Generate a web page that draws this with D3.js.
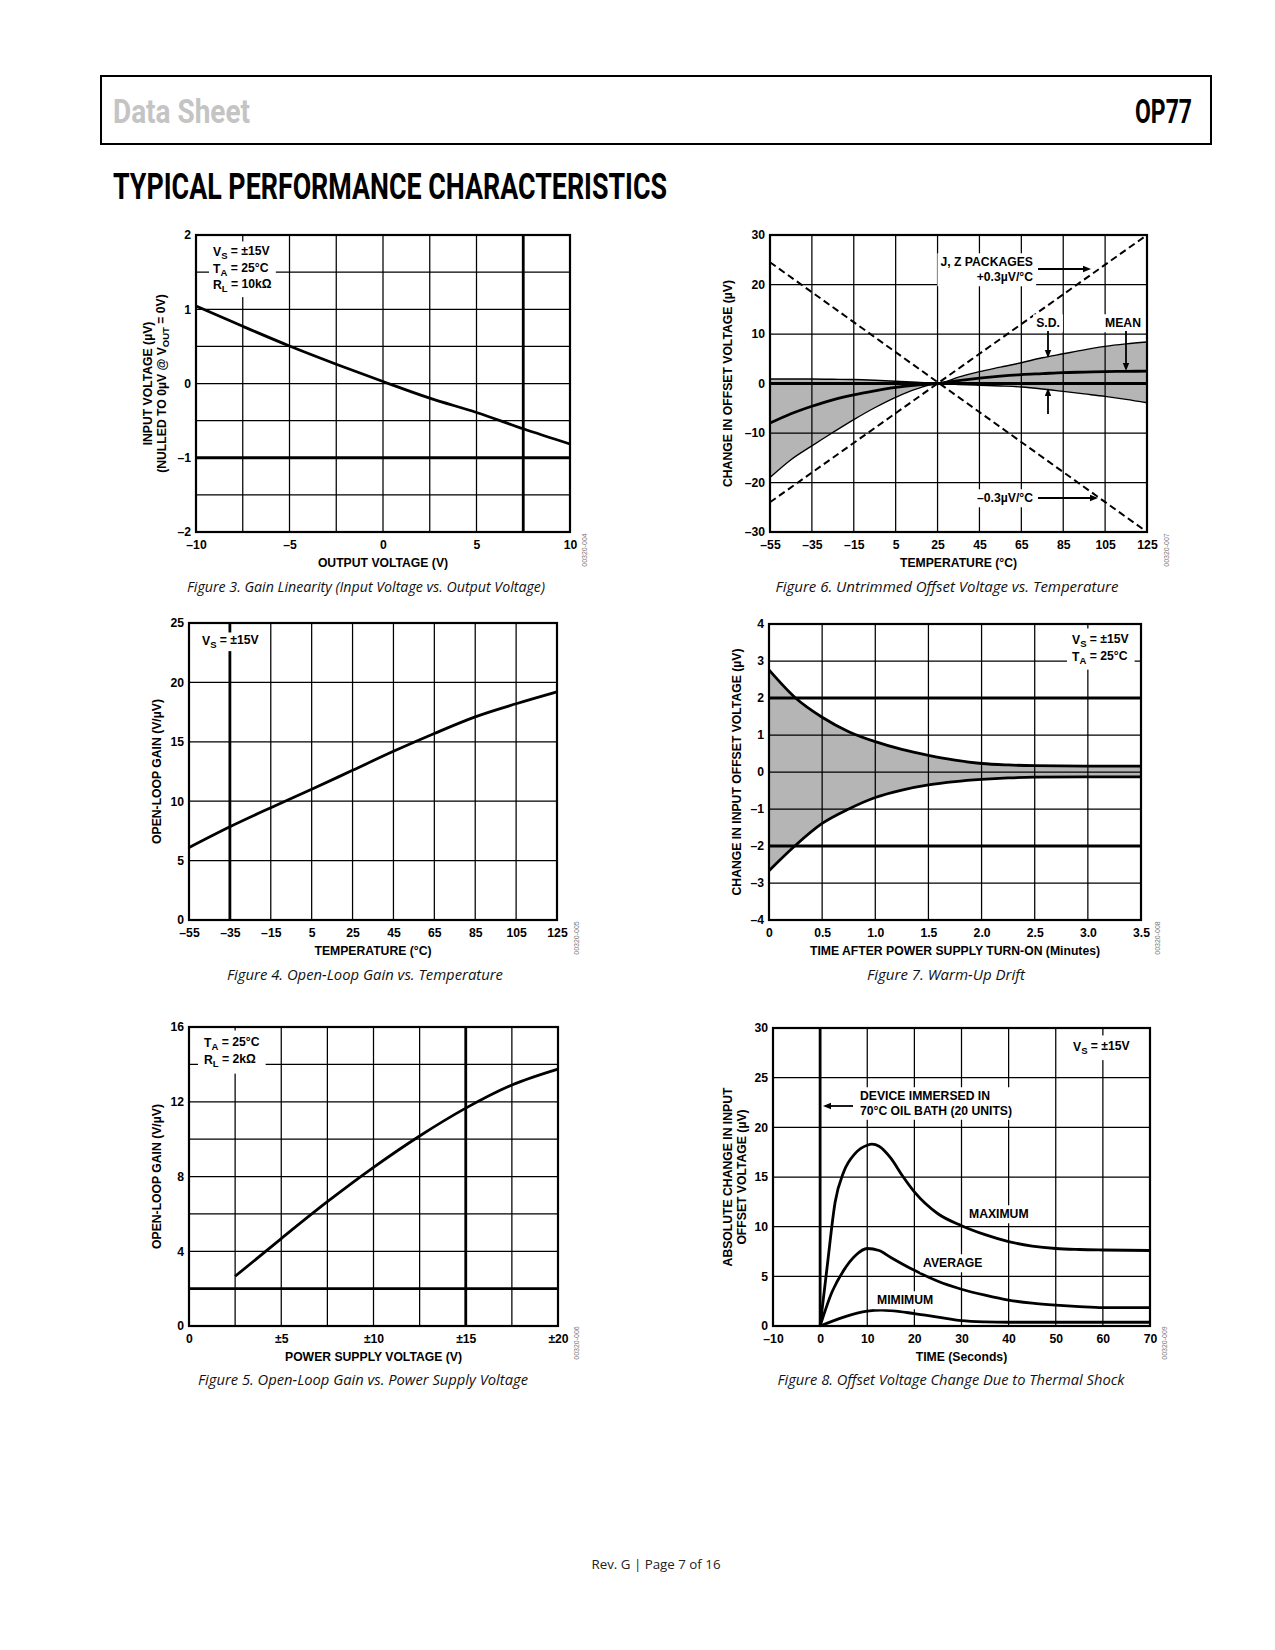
<!DOCTYPE html>
<html><head><meta charset="utf-8">
<script src="https://cdn.jsdelivr.net/npm/d3@7"></script>
<style>
body{margin:0;background:#fff;}
svg{display:block;}
</style></head><body>
<svg id="page" width="1275" height="1650" xmlns="http://www.w3.org/2000/svg"></svg>
<script>
// ================= DATA =================
// Figure 3: Gain linearity
const gainLinOut = [-10,-7.5,-5,-2.5,0,2.5,5,7.5,10];
const gainLinIn  = [1.045,0.77,0.505,0.26,0.027,-0.197,-0.39,-0.61,-0.815];
// Figure 4: Open-loop gain vs temperature
const olgTemp = [-55,-35,-15,5,25,45,65,85,105,125];
const olgTempGain = [6.1,7.85,9.45,11.0,12.6,14.2,15.7,17.1,18.2,19.2];
// Figure 5: Open-loop gain vs supply
const supplyV = [2.5,5,7.5,10,12.5,15,17.5,20];
const supplyGain = [2.66,4.68,6.65,8.49,10.17,11.66,12.9,13.75];
// Figure 6: Untrimmed offset vs temperature
const driftTemp  = [-55,-45,-35,-25,-15,-5,5,15,25,35,45,55,65,75,85,95,105,115,125];
const driftUpper = [0.9,0.9,0.9,0.85,0.8,0.65,0.45,0.25,0,1.3,2.4,3.3,4.2,5.2,6.0,6.8,7.5,8.0,8.4];
const driftMean  = [-8,-6.1,-4.6,-3.3,-2.3,-1.5,-0.8,-0.3,0,0.6,1.1,1.5,1.8,2.0,2.2,2.3,2.4,2.45,2.5];
const driftLower = [-19,-15.4,-12.6,-9.9,-7.3,-4.9,-2.8,-1.1,0,-0.2,-0.35,-0.5,-0.7,-1.1,-1.6,-2.1,-2.6,-3.2,-3.9];
const limitTemp  = [-55,125];
const limitPlus  = [-24,30];
const limitMinus = [24.5,-30];
// Figure 7: Warm-up drift
const warmTime  = [0,0.25,0.5,0.75,1.0,1.25,1.5,1.75,2.0,2.25,2.5,3.0,3.5];
const warmUpper = [2.76,2.0,1.48,1.09,0.82,0.61,0.45,0.32,0.23,0.19,0.17,0.16,0.16];
const warmLower = [-2.67,-1.98,-1.39,-1.0,-0.69,-0.49,-0.35,-0.26,-0.2,-0.16,-0.14,-0.13,-0.13];
// Figure 8: Thermal shock
const shockMaxT = [0,1.5,3.2,5,7.5,10,11,12.5,15,17.5,20,25,30,35,40,45,50,55,60,70];
const shockMax  = [0,6,12.5,15.5,17.4,18.2,18.3,18.1,16.9,15.1,13.5,11.3,10.1,9.2,8.5,8.05,7.8,7.7,7.65,7.6];
const shockAvgT = [0,2.5,5,7.5,10,12.5,15,20,25,30,35,40,45,50,55,60,70];
const shockAvg  = [0,3.4,5.6,7.1,7.8,7.6,6.9,5.6,4.5,3.7,3.1,2.6,2.3,2.1,1.95,1.85,1.85];
const shockMinT = [0,5,10,13,15,20,25,30,35,40,50,70];
const shockMin  = [0,0.9,1.5,1.6,1.55,1.25,0.9,0.55,0.42,0.38,0.38,0.38];

// Tick values
const f3XGrid = [-10,-7.5,-5,-2.5,0,2.5,5,7.5,10], f3XLab = [-10,-5,0,5,10];
const f3YGrid = [-2,-1.5,-1,-0.5,0,0.5,1,1.5,2],   f3YLab = [-2,-1,0,1,2];
const tempTicks = [-55,-35,-15,5,25,45,65,85,105,125];
const f6YTicks = [-30,-20,-10,0,10,20,30];
const f4YTicks = [0,5,10,15,20,25];
const f7XTicks = [0,0.5,1.0,1.5,2.0,2.5,3.0,3.5];
const f7YTicks = [-4,-3,-2,-1,0,1,2,3,4];
const f5XTicks = [0,2.5,5,7.5,10,12.5,15,17.5,20], f5XLab = [0,5,10,15,20];
const f5YGrid = [0,2,4,6,8,10,12,14,16], f5YLab = [0,4,8,12,16];
const f8XTicks = [-10,0,10,20,30,40,50,60,70];
const f8YTicks = [0,5,10,15,20,25,30];

// ================= DRAW =================
const svg = d3.select('#page');
const FONT = '"Liberation Sans", Arial, Helvetica, sans-serif';
const FS = 12.2;
const dash = '–';
const fmtSigned = d => d < 0 ? dash + Math.abs(d) : String(d);

function makeChart(c){
  const g = svg.append('g');
  const x = d3.scaleLinear().domain(c.xDomain).range([c.L, c.R]);
  const y = d3.scaleLinear().domain(c.yDomain).range([c.B, c.T]);
  const L = {
    fill: g.append('g'), grid: g.append('g'), data: g.append('g'),
    frame: g.append('g'), ann: g.append('g'), axes: g.append('g')
  };
  const thickX = c.thickX || [], thickY = c.thickY || [];
  L.grid.selectAll('line.v').data(c.xGrid.filter(d => d !== c.xDomain[0] && d !== c.xDomain[1]))
    .join('line').attr('class','v')
    .attr('x1', d => x(d)).attr('x2', d => x(d)).attr('y1', c.T).attr('y2', c.B)
    .attr('stroke', '#000').attr('stroke-width', d => thickX.includes(d) ? 2.8 : 1.25);
  L.grid.selectAll('line.h').data(c.yGrid.filter(d => d !== c.yDomain[0] && d !== c.yDomain[1]))
    .join('line').attr('class','h')
    .attr('y1', d => y(d)).attr('y2', d => y(d)).attr('x1', c.L).attr('x2', c.R)
    .attr('stroke', '#000').attr('stroke-width', d => thickY.includes(d) ? 2.8 : 1.25);
  L.frame.append('rect').attr('x', c.L).attr('y', c.T).attr('width', c.R - c.L).attr('height', c.B - c.T)
    .attr('fill', 'none').attr('stroke', '#000').attr('stroke-width', 2.2);

  const style = sel => sel.attr('font-family', FONT).attr('font-size', FS).attr('font-weight', 'bold');
  const ax = L.axes.append('g').attr('transform', `translate(0,${c.B})`)
    .call(d3.axisBottom(x).tickValues(c.xLab).tickFormat(c.xFmt || fmtSigned).tickSize(0).tickPadding(8.5));
  ax.select('.domain').remove(); style(ax);
  const ay = L.axes.append('g').attr('transform', `translate(${c.L},0)`)
    .call(d3.axisLeft(y).tickValues(c.yLab).tickFormat(c.yFmt || fmtSigned).tickSize(0).tickPadding(5));
  ay.select('.domain').remove(); style(ay);

  // axis titles
  const t = L.axes.append('text').attr('x', (c.L + c.R) / 2).attr('y', c.B + 31).attr('dy', '0.35em')
    .attr('text-anchor', 'middle').text(c.xTitle); style(t);
  c.yTitle.forEach((s, i) => {
    const yx = c.yTitleX[i];
    const tt = L.axes.append('text').attr('transform', `translate(${yx},${(c.T + c.B) / 2}) rotate(-90)`)
      .attr('dy', '0.35em').attr('text-anchor', 'middle');
    style(tt);
    richText(tt, s);
  });
  // figure id
  L.axes.append('text').attr('transform', `translate(${c.idX},${c.idY}) rotate(-90)`)
    .attr('text-anchor', 'middle').attr('dy', '0.35em')
    .attr('font-family', FONT).attr('font-size', 7).attr('fill', '#777').text(c.id);
  // caption
  svg.append('text').attr('x', c.capX).attr('y', c.capY).attr('text-anchor', 'middle')
    .attr('font-family', '"Open Sans", "Noto Sans", sans-serif').attr('font-style', 'italic')
    .attr('font-size', 14).attr('fill', '#111')
    .attr('textLength', c.capW).attr('lengthAdjust', 'spacingAndGlyphs').text(c.caption);
  return {g, x, y, L};
}

// rich text: segments like "V_{S} = ±15V"
function richText(sel, s){
  const re = /_\{([^}]*)\}/g;
  let last = 0, m, shifted = false;
  while ((m = re.exec(s)) !== null){
    if (m.index > last){
      sel.append('tspan').attr('dy', shifted ? '-0.3em' : null).text(s.slice(last, m.index));
      shifted = false;
    }
    sel.append('tspan').attr('dy', '0.3em').attr('font-size', '0.78em').text(m[1]);
    shifted = true;
    last = re.lastIndex;
  }
  if (last < s.length){
    sel.append('tspan').attr('dy', shifted ? '-0.3em' : null).text(s.slice(last));
  }
}

// text block with white box
function textBlock(layer, lines, x, y0, lineH, anchor, pad){
  const grp = layer.append('g');
  const rect = grp.append('rect').attr('fill', '#fff');
  lines.forEach((s, i) => {
    const t = grp.append('text').attr('x', x).attr('y', y0 + i * lineH).attr('dy', '0.35em')
      .attr('text-anchor', anchor || 'start')
      .attr('font-family', FONT).attr('font-size', FS).attr('font-weight', 'bold');
    richText(t, s);
  });
  const bb = grp.node().getBBox();
  const p = pad == null ? 4 : pad;
  rect.attr('x', bb.x - p).attr('y', bb.y - p + 1).attr('width', bb.width + 2 * p).attr('height', bb.height + 2 * p - 2);
  return grp;
}

function arrow(layer, x1, y1, x2, y2){
  const ang = Math.atan2(y2 - y1, x2 - x1);
  const len = 8, w = 3.2;
  const bx = x2 - len * Math.cos(ang), by = y2 - len * Math.sin(ang);
  layer.append('line').attr('x1', x1).attr('y1', y1).attr('x2', bx).attr('y2', by)
    .attr('stroke', '#000').attr('stroke-width', 1.8);
  const px = -Math.sin(ang) * w, py = Math.cos(ang) * w;
  layer.append('path').attr('d', `M${x2},${y2}L${bx + px},${by + py}L${bx - px},${by - py}Z`).attr('fill', '#000');
}

function curve(layer, xs, ys, c, w){
  const line = d3.line().x((d, i) => c.x(xs[i])).y((d, i) => c.y(ys[i])).curve(d3.curveMonotoneX);
  layer.append('path').attr('d', line(xs)).attr('fill', 'none').attr('stroke', '#000')
    .attr('stroke-width', w || 2.8).attr('stroke-linejoin', 'round').attr('stroke-linecap', 'butt');
}

function band(layer, xs, lo, hi, c){
  const area = d3.area().x((d, i) => c.x(xs[i])).y0((d, i) => c.y(lo[i])).y1((d, i) => c.y(hi[i]))
    .curve(d3.curveMonotoneX);
  layer.append('path').attr('d', area(xs)).attr('fill', '#b5b5b5');
}

// ---------- Header ----------
svg.append('rect').attr('x', 101).attr('y', 76).attr('width', 1110).attr('height', 68)
  .attr('fill', 'none').attr('stroke', '#000').attr('stroke-width', 2);
svg.append('text').attr('x', 113).attr('y', 123).attr('font-family', 'Roboto, "Liberation Sans", sans-serif')
  .attr('font-weight', 'bold').attr('font-size', 34).attr('fill', '#c4c4c4')
  .attr('textLength', 137).attr('lengthAdjust', 'spacingAndGlyphs').text('Data Sheet');
svg.append('text').attr('x', 1135).attr('y', 123).attr('font-family', 'Roboto, "Liberation Sans", sans-serif')
  .attr('font-weight', 'bold').attr('font-size', 34).attr('fill', '#000')
  .attr('textLength', 57).attr('lengthAdjust', 'spacingAndGlyphs').text('OP77');
svg.append('text').attr('x', 113).attr('y', 199).attr('font-family', 'Roboto, "Liberation Sans", sans-serif')
  .attr('font-weight', 'bold').attr('font-size', 36).attr('fill', '#000')
  .attr('textLength', 554).attr('lengthAdjust', 'spacingAndGlyphs').text('TYPICAL PERFORMANCE CHARACTERISTICS');
// Footer
svg.append('text').attr('x', 656).attr('y', 1569).attr('text-anchor', 'middle')
  .attr('font-family', '"Open Sans", "Noto Sans", sans-serif').attr('font-size', 13).attr('fill', '#222')
  .attr('textLength', 129).attr('lengthAdjust', 'spacingAndGlyphs').text('Rev. G | Page 7 of 16');

// ---------- Figure 3 ----------
const c3 = makeChart({
  L: 196, R: 570, T: 235, B: 532, xDomain: [-10, 10], yDomain: [-2, 2],
  xGrid: f3XGrid, yGrid: f3YGrid, xLab: f3XLab, yLab: f3YLab, thickX: [7.5], thickY: [-1],
  xTitle: 'OUTPUT VOLTAGE (V)', yTitle: ['INPUT VOLTAGE (µV)', '(NULLED TO 0µV @ V_{OUT} = 0V)'], yTitleX: [148, 162],
  id: '00320-004', idX: 585, idY: 550,
  caption: 'Figure 3. Gain Linearity (Input Voltage vs. Output Voltage)', capX: 366, capY: 592, capW: 358
});
textBlock(c3.L.ann, ['V_{S} = ±15V', 'T_{A} = 25°C', 'R_{L} = 10kΩ'], 213, 252, 16.5, 'start', 4);
curve(c3.L.data, gainLinOut, gainLinIn, c3);

// ---------- Figure 6 ----------
const c6 = makeChart({
  L: 770, R: 1147, T: 235, B: 532, xDomain: [-55, 125], yDomain: [-30, 30],
  xGrid: tempTicks, yGrid: f6YTicks, xLab: tempTicks, yLab: f6YTicks, thickY: [0],
  xTitle: 'TEMPERATURE (°C)', yTitle: ['CHANGE IN OFFSET VOLTAGE (µV)'], yTitleX: [728],
  id: '00320-007', idX: 1167, idY: 550,
  caption: 'Figure 6. Untrimmed Offset Voltage vs. Temperature', capX: 947, capY: 592, capW: 343
});
band(c6.L.fill, driftTemp, driftLower, driftUpper, c6);
curve(c6.L.data, driftTemp, driftUpper, c6, 1.4);
curve(c6.L.data, driftTemp, driftLower, c6, 1.4);
curve(c6.L.data, driftTemp, driftMean, c6, 2.8);
[limitPlus, limitMinus].forEach(vals => {
  c6.L.data.append('path')
    .attr('d', d3.line().x((d, i) => c6.x(limitTemp[i])).y((d, i) => c6.y(vals[i]))(limitTemp))
    .attr('fill', 'none').attr('stroke', '#000').attr('stroke-width', 2).attr('stroke-dasharray', '7,4');
});
textBlock(c6.L.ann, ['J, Z PACKAGES', '+0.3µV/°C'], 1033, 262, 15, 'end', 3);
arrow(c6.L.ann, 1038, 269, 1091, 269);
textBlock(c6.L.ann, ['S.D.'], 1048, 323, 15, 'middle', 3);
arrow(c6.L.ann, 1048, 331, 1048, 358);
arrow(c6.L.ann, 1048, 414, 1048, 388);
textBlock(c6.L.ann, ['MEAN'], 1123, 323, 15, 'middle', 3);
arrow(c6.L.ann, 1126, 331, 1126, 371);
textBlock(c6.L.ann, [dash + '0.3µV/°C'], 1033, 498, 15, 'end', 3);
arrow(c6.L.ann, 1038, 498, 1098, 498);

// ---------- Figure 4 ----------
const c4 = makeChart({
  L: 189, R: 557, T: 623, B: 920, xDomain: [-55, 125], yDomain: [0, 25],
  xGrid: tempTicks, yGrid: f4YTicks, xLab: tempTicks, yLab: f4YTicks, thickX: [-35],
  xTitle: 'TEMPERATURE (°C)', yTitle: ['OPEN-LOOP GAIN (V/µV)'], yTitleX: [157],
  id: '00320-005', idX: 577, idY: 938,
  caption: 'Figure 4. Open-Loop Gain vs. Temperature', capX: 365, capY: 980, capW: 276
});
textBlock(c4.L.ann, ['V_{S} = ±15V'], 202, 641, 16, 'start', 2);
curve(c4.L.data, olgTemp, olgTempGain, c4);

// ---------- Figure 7 ----------
const c7 = makeChart({
  L: 769, R: 1141, T: 624, B: 920, xDomain: [0, 3.5], yDomain: [-4, 4],
  xGrid: f7XTicks, yGrid: f7YTicks, xLab: f7XTicks, yLab: f7YTicks, thickY: [2, -2],
  xFmt: d => d === 0 ? '0' : d3.format('.1f')(d),
  xTitle: 'TIME AFTER POWER SUPPLY TURN-ON (Minutes)', yTitle: ['CHANGE IN INPUT OFFSET VOLTAGE (µV)'], yTitleX: [737],
  id: '00320-008', idX: 1158, idY: 938,
  caption: 'Figure 7. Warm-Up Drift', capX: 946, capY: 980, capW: 158
});
band(c7.L.fill, warmTime, warmLower, warmUpper, c7);
curve(c7.L.data, warmTime, warmUpper, c7);
curve(c7.L.data, warmTime, warmLower, c7);
textBlock(c7.L.ann, ['V_{S} = ±15V', 'T_{A} = 25°C'], 1072, 640, 16.5, 'start', 5);

// ---------- Figure 5 ----------
const c5 = makeChart({
  L: 189, R: 558, T: 1027, B: 1326, xDomain: [0, 20], yDomain: [0, 16],
  xGrid: f5XTicks, yGrid: f5YGrid, xLab: f5XLab, yLab: f5YLab, thickX: [15], thickY: [2],
  xFmt: d => d === 0 ? '0' : '±' + d,
  xTitle: 'POWER SUPPLY VOLTAGE (V)', yTitle: ['OPEN-LOOP GAIN (V/µV)'], yTitleX: [157],
  id: '00320-006', idX: 577, idY: 1343,
  caption: 'Figure 5. Open-Loop Gain vs. Power Supply Voltage', capX: 363, capY: 1385, capW: 330
});
textBlock(c5.L.ann, ['T_{A} = 25°C', 'R_{L} = 2kΩ'], 204, 1043, 16.5, 'start', 6);
curve(c5.L.data, supplyV, supplyGain, c5);

// ---------- Figure 8 ----------
const c8 = makeChart({
  L: 773, R: 1150, T: 1028, B: 1326, xDomain: [-10, 70], yDomain: [0, 30],
  xGrid: f8XTicks, yGrid: f8YTicks, xLab: f8XTicks, yLab: f8YTicks, thickX: [0],
  xTitle: 'TIME (Seconds)', yTitle: ['ABSOLUTE CHANGE IN INPUT', 'OFFSET VOLTAGE (µV)'], yTitleX: [728, 742],
  id: '00320-009', idX: 1165, idY: 1343,
  caption: 'Figure 8. Offset Voltage Change Due to Thermal Shock', capX: 951, capY: 1385, capW: 347
});
curve(c8.L.data, shockMaxT, shockMax, c8);
curve(c8.L.data, shockAvgT, shockAvg, c8);
curve(c8.L.data, shockMinT, shockMin, c8);
textBlock(c8.L.ann, ['V_{S} = ±15V'], 1073, 1047, 16, 'start', 5);
textBlock(c8.L.ann, ['DEVICE IMMERSED IN', '70°C OIL BATH (20 UNITS)'], 860, 1096, 14.5, 'start', 3);
arrow(c8.L.ann, 853, 1106, 823, 1106);
textBlock(c8.L.ann, ['MAXIMUM'], 969, 1214, 15, 'start', 3);
textBlock(c8.L.ann, ['AVERAGE'], 923, 1263, 15, 'start', 3);
textBlock(c8.L.ann, ['MIMIMUM'], 877, 1300, 15, 'start', 3);
</script>
</body></html>
